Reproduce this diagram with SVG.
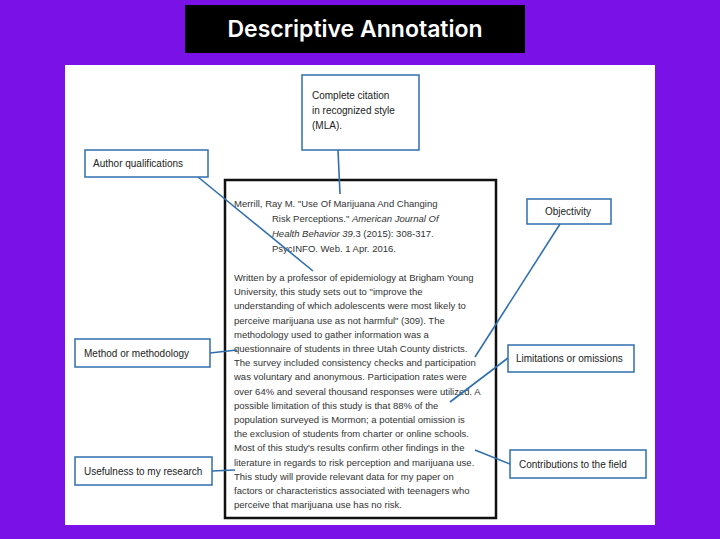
<svg xmlns="http://www.w3.org/2000/svg" width="720" height="539" viewBox="0 0 720 539">
<style>
.lbl rect{fill:#fff;stroke:#2f6fae;stroke-width:1.5}
.lbl text{font-family:"Liberation Sans",Arial,sans-serif;font-size:10px;fill:#222}
.t{font-family:"Liberation Sans",Arial,sans-serif;font-size:9.5px;fill:#333}
#connectors line{stroke:#2f6fae;stroke-width:1.6}
</style>
<rect width="720" height="539" fill="#7a12e8"/>
<g id="title"><rect x="185" y="5" width="340" height="48" fill="#000"/>
<text x="355" y="37" text-anchor="middle" font-family="Inter,'Liberation Sans',sans-serif" font-size="23" font-weight="600" fill="#fff">Descriptive Annotation</text></g>
<rect x="65" y="65" width="590" height="460" fill="#fff"/>
<g id="doc"><rect x="225" y="180" width="271" height="338" fill="#fff" stroke="#111" stroke-width="2.5"/>
<text class="t" x="234" y="207">Merrill, Ray M. "Use Of Marijuana And Changing</text>
<text class="t" x="272" y="222">Risk Perceptions." <tspan font-style="italic">American Journal Of</tspan></text>
<text class="t" x="272" y="237"><tspan font-style="italic">Health Behavior 39</tspan>.3 (2015): 308-317.</text>
<text class="t" x="272" y="252">PsycINFO. Web. 1 Apr. 2016.</text>
<text class="t" x="234" y="281">Written by a professor of epidemiology at Brigham Young</text>
<text class="t" x="234" y="295.2">University, this study sets out to "improve the</text>
<text class="t" x="234" y="309.4">understanding of which adolescents were most likely to</text>
<text class="t" x="234" y="323.6">perceive marijuana use as not harmful" (309). The</text>
<text class="t" x="234" y="337.8">methodology used to gather information was a</text>
<text class="t" x="234" y="352">questionnaire of students in three Utah County districts.</text>
<text class="t" x="234" y="366.2">The survey included consistency checks and participation</text>
<text class="t" x="234" y="380.4">was voluntary and anonymous. Participation rates were</text>
<text class="t" x="234" y="394.6">over 64% and several thousand responses were utilized. A</text>
<text class="t" x="234" y="408.8">possible limitation of this study is that 88% of the</text>
<text class="t" x="234" y="423">population surveyed is Mormon; a potential omission is</text>
<text class="t" x="234" y="437.2">the exclusion of students from charter or online schools.</text>
<text class="t" x="234" y="451.4">Most of this study's results confirm other findings in the</text>
<text class="t" x="234" y="465.6">literature in regards to risk perception and marijuana use.</text>
<text class="t" x="234" y="479.8">This study will provide relevant data for my paper on</text>
<text class="t" x="234" y="494">factors or characteristics associated with teenagers who</text>
<text class="t" x="234" y="508.2">perceive that marijuana use has no risk.</text>
</g>
<g id="connectors">
<line x1="338" y1="150" x2="340" y2="194"/>
<line x1="198" y1="177" x2="313" y2="271"/>
<line x1="560" y1="224" x2="475" y2="357"/>
<line x1="210" y1="353" x2="237" y2="350"/>
<line x1="508" y1="358" x2="450" y2="402"/>
<line x1="510" y1="464" x2="475" y2="450"/>
<line x1="212" y1="471" x2="235" y2="470"/>
</g>
<g id="n-citation" class="lbl"><rect x="302" y="75" width="117" height="75"/><text x="312" y="99">Complete citation</text><text x="312" y="114">in recognized style</text><text x="312" y="129">(MLA).</text></g>
<g id="n-author" class="lbl"><rect x="85" y="150" width="123" height="27"/><text x="93" y="167">Author qualifications</text></g>
<g id="n-objectivity" class="lbl"><rect x="527" y="199" width="84" height="25"/><text x="545" y="215">Objectivity</text></g>
<g id="n-method" class="lbl"><rect x="75" y="339" width="135" height="28"/><text x="84" y="357">Method or methodology</text></g>
<g id="n-limits" class="lbl"><rect x="508" y="345" width="126" height="27"/><text x="516" y="362">Limitations or omissions</text></g>
<g id="n-contrib" class="lbl"><rect x="510" y="450" width="136" height="28"/><text x="519" y="468">Contributions to the field</text></g>
<g id="n-useful" class="lbl"><rect x="75" y="457" width="137" height="28"/><text x="84" y="475">Usefulness to my research</text></g>
</svg>
